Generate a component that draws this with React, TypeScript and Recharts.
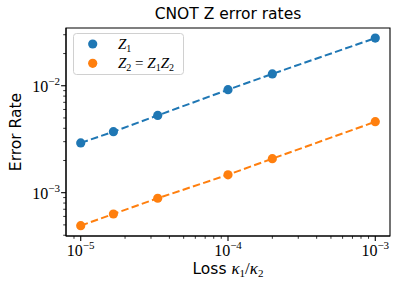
import React from "react";
import {
  LineChart,
  Line,
  XAxis,
  YAxis,
  ReferenceArea
} from "recharts";

// loss kappa1/kappa2
const losses = [1e-5, 1.667e-5, 3.333e-5, 1e-4, 2e-4, 1e-3];
// Z1 error rate
const z1Rates = [2.92e-3, 3.72e-3, 5.28e-3, 9.18e-3, 1.29e-2, 2.79e-2];
// Z2 = Z1Z2 error rate
const z2Rates = [4.92e-4, 6.32e-4, 8.87e-4, 1.47e-3, 2.08e-3, 4.61e-3];

const xMajorTicks = [1e-5, 1e-4, 1e-3];
const xMinorTicks = [
  9e-6,
  2e-5, 3e-5, 4e-5, 5e-5, 6e-5, 7e-5, 8e-5, 9e-5,
  2e-4, 3e-4, 4e-4, 5e-4, 6e-4, 7e-4, 8e-4, 9e-4
];
const yMajorTicks = [1e-3, 1e-2];
const yMinorTicks = [
  4e-4, 5e-4, 6e-4, 7e-4, 8e-4, 9e-4,
  2e-3, 3e-3, 4e-3, 5e-3, 6e-3, 7e-3, 8e-3, 9e-3,
  2e-2, 3e-2
];

const xDomain = [Math.pow(10, -5.1), Math.pow(10, -2.9)];
const yDomain = [Math.pow(10, -3.405), Math.pow(10, -1.46)];

const BLUE = "#1f77b4";
const ORANGE = "#ff7f0e";
const SANS = '"DejaVu Sans", sans-serif';
const MATH = '"Liberation Serif", "DejaVu Serif", serif';

const data = losses.map((x, i) => ({ x, z1: z1Rates[i], z2: z2Rates[i] }));

const isMajor = (v: number) => xMajorTicks.includes(v) || yMajorTicks.includes(v);
const exponent = (v: number) => Math.round(Math.log10(v));

const XTick = (props: any) => {
  const { x, y, payload } = props;
  const major = isMajor(payload.value);
  return (
    <g>
      <line x1={x} x2={x} y1={y} y2={y + (major ? 4.9 : 2.8)} stroke="#000" strokeWidth={major ? 1.1 : 0.8} />
      {major && (
        <text x={x} y={y + 19.5} textAnchor="middle" fontFamily={MATH} fontSize={16} fill="#000">
          <tspan>10</tspan>
          <tspan dy={-7} fontSize={11}>{"\u2212" + Math.abs(exponent(payload.value))}</tspan>
        </text>
      )}
    </g>
  );
};

const YTick = (props: any) => {
  const { x, y, payload } = props;
  const major = isMajor(payload.value);
  return (
    <g>
      <line x1={x} x2={x - (major ? 4.9 : 2.8)} y1={y} y2={y} stroke="#000" strokeWidth={major ? 1.1 : 0.8} />
      {major && (
        <text x={x - 6} y={y + 6} textAnchor="end" fontFamily={MATH} fontSize={16} fill="#000">
          <tspan>10</tspan>
          <tspan dy={-7} fontSize={11}>{"\u2212" + Math.abs(exponent(payload.value))}</tspan>
        </text>
      )}
    </g>
  );
};

const XLabel = () => (
  <text x={228} y={274} textAnchor="middle" fontSize={15.5} fill="#000">
    <tspan fontFamily={SANS}>Loss </tspan>
    <tspan fontFamily={MATH} fontStyle="italic" fontSize={17}>κ</tspan>
    <tspan fontFamily={MATH} fontSize={11} dy={3}>1</tspan>
    <tspan fontFamily={MATH} fontSize={17} dy={-3}>/</tspan>
    <tspan fontFamily={MATH} fontStyle="italic" fontSize={17}>κ</tspan>
    <tspan fontFamily={MATH} fontSize={11} dy={3}>2</tspan>
  </text>
);

const YLabel = () => (
  <text transform="rotate(-90)" x={-132} y={21} textAnchor="middle" fontFamily={SANS} fontSize={15.5} fill="#000">
    Error Rate
  </text>
);

export default function App() {
  return (
    <div style={{ position: "absolute", left: 0, top: 0, width: 399, height: 290, background: "#fff" }}>
      <LineChart
        width={399}
        height={290}
        data={data}
        margin={{ top: 28, right: 9, bottom: 0, left: 0 }}
      >
        <XAxis
          dataKey="x"
          type="number"
          scale="log"
          domain={xDomain}
          allowDataOverflow
          ticks={[...xMajorTicks, ...xMinorTicks]}
          interval={0}
          tick={<XTick />}
          tickLine={false}
          tickSize={0}
          tickMargin={0}
          axisLine={{ stroke: "#000" }}
          height={54}
          label={<XLabel />}
        />
        <YAxis
          type="number"
          scale="log"
          domain={yDomain}
          allowDataOverflow
          ticks={[...yMajorTicks, ...yMinorTicks]}
          interval={0}
          tick={<YTick />}
          tickLine={false}
          tickSize={0}
          tickMargin={0}
          axisLine={{ stroke: "#000" }}
          width={66}
          label={<YLabel />}
        />
        <ReferenceArea
          x1={xDomain[0]}
          x2={xDomain[1]}
          y1={yDomain[0]}
          y2={yDomain[1]}
          fill="none"
          stroke="#000"
          strokeWidth={1.1}
          fillOpacity={0}
        />
        <Line
          dataKey="z1"
          stroke={BLUE}
          strokeWidth={2}
          strokeDasharray="7.5 3.3"
          dot={{ r: 4.6, fill: BLUE, stroke: BLUE, strokeWidth: 0 }}
          isAnimationActive={false}
        />
        <Line
          dataKey="z2"
          stroke={ORANGE}
          strokeWidth={2}
          strokeDasharray="7.5 3.3"
          dot={{ r: 4.6, fill: ORANGE, stroke: ORANGE, strokeWidth: 0 }}
          isAnimationActive={false}
        />
      </LineChart>
      <svg width={399} height={290} style={{ position: "absolute", left: 0, top: 0, pointerEvents: "none" }}>
        <text x={228} y={19} textAnchor="middle" fontFamily={SANS} fontSize={15.5} fill="#000">
          CNOT Z error rates
        </text>
        <rect x={73.5} y={33.5} width={110} height={41} rx={3} fill="#fff" fillOpacity={0.8} stroke="#d0d0d0" strokeWidth={1} />
        <circle cx={92.7} cy={44} r={4.6} fill={BLUE} />
        <circle cx={92.7} cy={63.3} r={4.6} fill={ORANGE} />
        <text x={118} y={49} fontFamily={MATH} fontSize={15} fill="#000">
          <tspan fontStyle="italic">Z</tspan>
          <tspan fontSize={10} dy={3}>1</tspan>
        </text>
        <text x={118} y={68} fontFamily={MATH} fontSize={15} fill="#000">
          <tspan fontStyle="italic">Z</tspan>
          <tspan fontSize={10} dy={3}>2</tspan>
          <tspan dy={-3}>{" = "}</tspan>
          <tspan fontStyle="italic">Z</tspan>
          <tspan fontSize={10} dy={3}>1</tspan>
          <tspan fontStyle="italic" dy={-3}>Z</tspan>
          <tspan fontSize={10} dy={3}>2</tspan>
        </text>
      </svg>
    </div>
  );
}
